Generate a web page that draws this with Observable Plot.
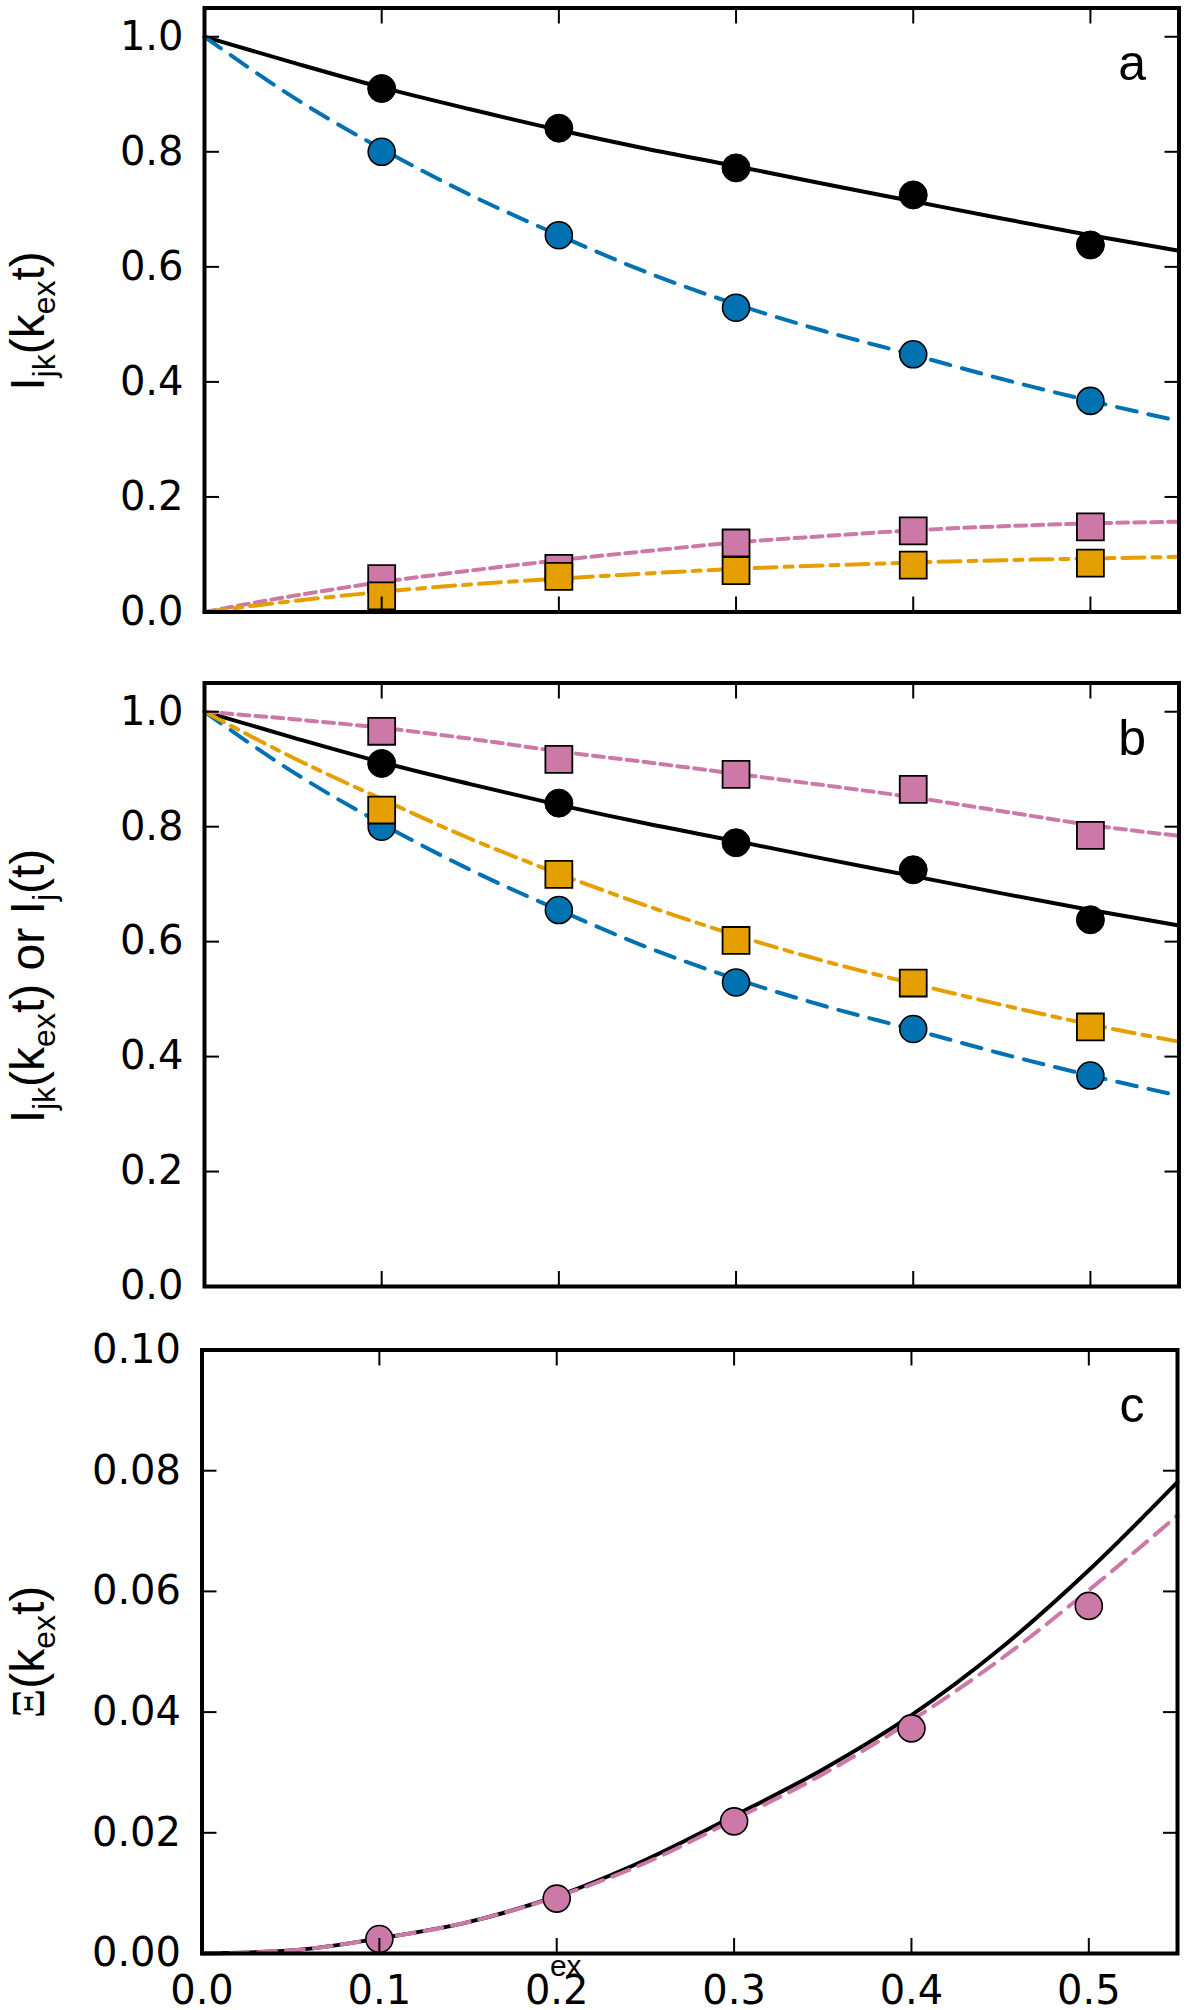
<!DOCTYPE html>
<html>
<head>
<meta charset="utf-8">
<script src="https://cdn.jsdelivr.net/npm/d3@7"></script>
<script src="https://cdn.jsdelivr.net/npm/@observablehq/plot@0.6"></script>
<style>
  html, body { margin: 0; padding: 0; background: #fff; }
  #chart { width: 1188px; }
  #chart svg { display: block; }
</style>
</head>
<body>
<div id="chart"></div>
<script>
// ---------- data ----------
const markerX = [0.1, 0.2, 0.3, 0.4, 0.5];
const curveX  = [0, 0.05, 0.1, 0.15, 0.2, 0.25, 0.3, 0.35, 0.4, 0.45, 0.5, 0.55];

// panel a
const blackPts   = [0.910, 0.841, 0.772, 0.725, 0.638];
const bluePts    = [0.800, 0.655, 0.529, 0.448, 0.367];
const pinkPtsA   = [0.058, 0.076, 0.120, 0.141, 0.148];
const orangePtsA = [0.028, 0.062, 0.072, 0.0815, 0.085];
const blackCurve  = [1.0, 0.955, 0.912, 0.874, 0.838, 0.805, 0.775, 0.744, 0.714, 0.684, 0.655, 0.628];
const blueCurve   = [1.0, 0.895, 0.805, 0.725, 0.655, 0.590, 0.535, 0.488, 0.447, 0.405, 0.367, 0.332];
const pinkCurveA  = [0, 0.028, 0.052, 0.072, 0.090, 0.106, 0.121, 0.132, 0.142, 0.149, 0.154, 0.157];
const orangeCurveA= [0, 0.019, 0.035, 0.048, 0.058, 0.067, 0.075, 0.081, 0.086, 0.090, 0.093, 0.096];

// panel b
const pinkPtsB   = [0.966, 0.917, 0.891, 0.865, 0.785];
const orangePtsB = [0.829, 0.717, 0.602, 0.528, 0.4515];
const pinkCurveB   = [1.0, 0.987, 0.972, 0.953, 0.931, 0.912, 0.892, 0.872, 0.851, 0.827, 0.803, 0.784];
const orangeCurveB = [1.0, 0.920, 0.848, 0.779, 0.718, 0.662, 0.611, 0.566, 0.527, 0.490, 0.456, 0.426];

// panel c
const xiPts   = [0.0024, 0.0091, 0.0219, 0.0373, 0.0576];
const xiBlack = [0, 0.0005, 0.0025, 0.0052, 0.0095, 0.0155, 0.0228, 0.0305, 0.0395, 0.0505, 0.0635, 0.0781];
const xiPink  = [0, 0.0005, 0.0025, 0.0052, 0.0094, 0.0150, 0.0222, 0.0297, 0.0386, 0.0487, 0.0602, 0.0726];

// ticks
const xTicks = [0.1, 0.2, 0.3, 0.4, 0.5];
const xTickLabels = [0, 0.1, 0.2, 0.3, 0.4, 0.5];
const yTicksI = [0, 0.2, 0.4, 0.6, 0.8, 1.0];
const yTicksXi = [0, 0.02, 0.04, 0.06, 0.08, 0.10];

// colours
const C = { black: "#000000", blue: "#0072B2", orange: "#E69F00", pink: "#CC79A7" };

// ---------- helpers ----------
const tableA = curveX.map((x, i) => ({x, black: blackCurve[i], blue: blueCurve[i], pink: pinkCurveA[i], orange: orangeCurveA[i]}));
const ptsA   = markerX.map((x, i) => ({x, black: blackPts[i], blue: bluePts[i], pink: pinkPtsA[i], orange: orangePtsA[i]}));
const tableB = curveX.map((x, i) => ({x, black: blackCurve[i], blue: blueCurve[i], pink: pinkCurveB[i], orange: orangeCurveB[i]}));
const ptsB   = markerX.map((x, i) => ({x, black: blackPts[i], blue: bluePts[i], pink: pinkPtsB[i], orange: orangePtsB[i]}));
const tableC = curveX.map((x, i) => ({x, black: xiBlack[i], pink: xiPink[i]}));
const ptsC   = markerX.map((x, i) => ({x, pink: xiPts[i]}));

const LW = 4;
const SQ = 15.2;

function fourLines(table) {
  return [
    Plot.line(table, {x: "x", y: "black", stroke: C.black, strokeWidth: LW, curve: "monotone-x"}),
    Plot.line(table, {x: "x", y: "blue", stroke: C.blue, strokeWidth: LW, strokeDasharray: "20,12", curve: "monotone-x"}),
    Plot.line(table, {x: "x", y: "pink", stroke: C.pink, strokeWidth: LW, strokeDasharray: "11,6", curve: "monotone-x"}),
    Plot.line(table, {x: "x", y: "orange", stroke: C.orange, strokeWidth: LW, strokeDasharray: "22,8,8,8", curve: "monotone-x"})
  ];
}
function fourDots(pts) {
  return [
    Plot.dot(pts, {x: "x", y: "black", r: 14, fill: C.black, stroke: C.black, strokeWidth: 1}),
    Plot.dot(pts, {x: "x", y: "blue", r: 13.5, fill: C.blue, stroke: "#000", strokeWidth: 1.6}),
    Plot.dot(pts, {x: "x", y: "pink", r: SQ, symbol: "square", fill: C.pink, stroke: "#000", strokeWidth: 1.8}),
    Plot.dot(pts, {x: "x", y: "orange", r: SQ, symbol: "square", fill: C.orange, stroke: "#000", strokeWidth: 1.8})
  ];
}
function frameAxes(yTicks, yFmt, showX) {
  const m = [
    Plot.axisY(yTicks, {anchor: "left", tickSize: 0, tickPadding: 21, tickFormat: yFmt, label: null, fontSize: 40}),
    Plot.axisY(yTicks, {anchor: "left", tickSize: -15, strokeWidth: 2, fill: "none", label: null}),
    Plot.axisY(yTicks, {anchor: "right", tickSize: -15, strokeWidth: 2, fill: "none", label: null}),
    Plot.axisX(xTicks, {anchor: "top", tickSize: -15, strokeWidth: 2, fill: "none", label: null}),
    Plot.axisX(xTicks, {anchor: "bottom", tickSize: -15, strokeWidth: 2, fill: "none", label: null})
  ];
  if (showX) m.push(Plot.axisX(xTickLabels, {anchor: "bottom", tickSize: 0, tickPadding: 22, tickFormat: d3.format(".1f"), label: null, fontSize: 40}));
  m.push(Plot.frame({stroke: "#000", strokeWidth: 4}));
  return m;
}
function panelLetter(s) {
  return Plot.text([s], {text: d => d, frameAnchor: "top-right", dx: -33, dy: 72, textAnchor: "end", lineAnchor: "bottom", fontSize: 50, fontFamily: "Liberation Sans", fill: "#000"});
}
function addYLabel(svg, parts, cx, cy) {
  const t = d3.select(svg).append("text")
    .attr("transform", `translate(${cx},${cy}) rotate(-90)`)
    .attr("text-anchor", "middle")
    .attr("fill", "#000")
    .style("font-family", "'Liberation Sans', Arial, sans-serif")
    .style("font-size", "48px");
  let shifted = false;
  for (const p of parts) {
    const ts = t.append("tspan").text(p.t);
    if (p.sub && !shifted) { ts.attr("dy", 11); shifted = true; }
    else if (!p.sub && shifted) { ts.attr("dy", -11); shifted = false; }
    if (p.sub) ts.style("font-size", "32px");
    if (p.serif) ts.style("font-family", "'Liberation Serif', 'DejaVu Serif', serif").style("font-size", "46px");
  }
}

const baseStyle = {fontFamily: "'DejaVu Sans', sans-serif", fontSize: "40px", color: "#000", background: "#fff", overflow: "visible"};

// ---------- panel a ----------
const pa = Plot.plot({
  width: 1188, height: 640, marginTop: 7.5, marginBottom: 28.5, marginLeft: 204, marginRight: 9.5,
  style: baseStyle,
  x: {domain: [0, 0.55]},
  y: {domain: [0, 1.05]},
  marks: [
    ...fourLines(tableA),
    ...fourDots(ptsA),
    panelLetter("a"),
    ...frameAxes(yTicksI, d3.format(".1f"), false)
  ]
});
addYLabel(pa, [{t: "I"}, {t: "jk", sub: true}, {t: "(k"}, {t: "ex", sub: true}, {t: "t)"}], 44, 321);

// ---------- panel b ----------
const pb = Plot.plot({
  width: 1188, height: 680, marginTop: 42.5, marginBottom: 34, marginLeft: 204, marginRight: 9.5,
  style: baseStyle,
  x: {domain: [0, 0.55]},
  y: {domain: [0, 1.05]},
  marks: [
    ...fourLines(tableB),
    ...fourDots(ptsB),
    panelLetter("b"),
    ...frameAxes(yTicksI, d3.format(".1f"), false)
  ]
});
addYLabel(pb, [{t: "I"}, {t: "jk", sub: true}, {t: "(k"}, {t: "ex", sub: true}, {t: "t) or I"}, {t: "j", sub: true}, {t: "(t)"}], 44, 346);

// ---------- panel c ----------
const pc = Plot.plot({
  width: 1188, height: 690, marginTop: 29.5, marginBottom: 57, marginLeft: 201.5, marginRight: 11,
  style: baseStyle,
  x: {domain: [0, 0.55]},
  y: {domain: [0, 0.10]},
  marks: [
    Plot.line(tableC, {x: "x", y: "black", stroke: C.black, strokeWidth: LW, curve: "monotone-x"}),
    Plot.line(tableC, {x: "x", y: "pink", stroke: C.pink, strokeWidth: LW, strokeDasharray: "18,10", curve: "monotone-x"}),
    Plot.dot(ptsC, {x: "x", y: "pink", r: 13.5, fill: C.pink, stroke: "#000", strokeWidth: 1.6}),
    panelLetter("c"),
    Plot.text(["ex"], {text: d => d, frameAnchor: "bottom", dx: -124, dy: 22, lineAnchor: "bottom", fontSize: 30, fontFamily: "Liberation Sans", fill: "#000"}),
    ...frameAxes(yTicksXi, d3.format(".2f"), true)
  ]
});
addYLabel(pc, [{t: "Ξ", serif: true}, {t: "(k"}, {t: "ex", sub: true}, {t: "t)"}], 44, 332);

const chart = document.getElementById("chart");
chart.append(pa, pb, pc);
</script>
</body>
</html>
